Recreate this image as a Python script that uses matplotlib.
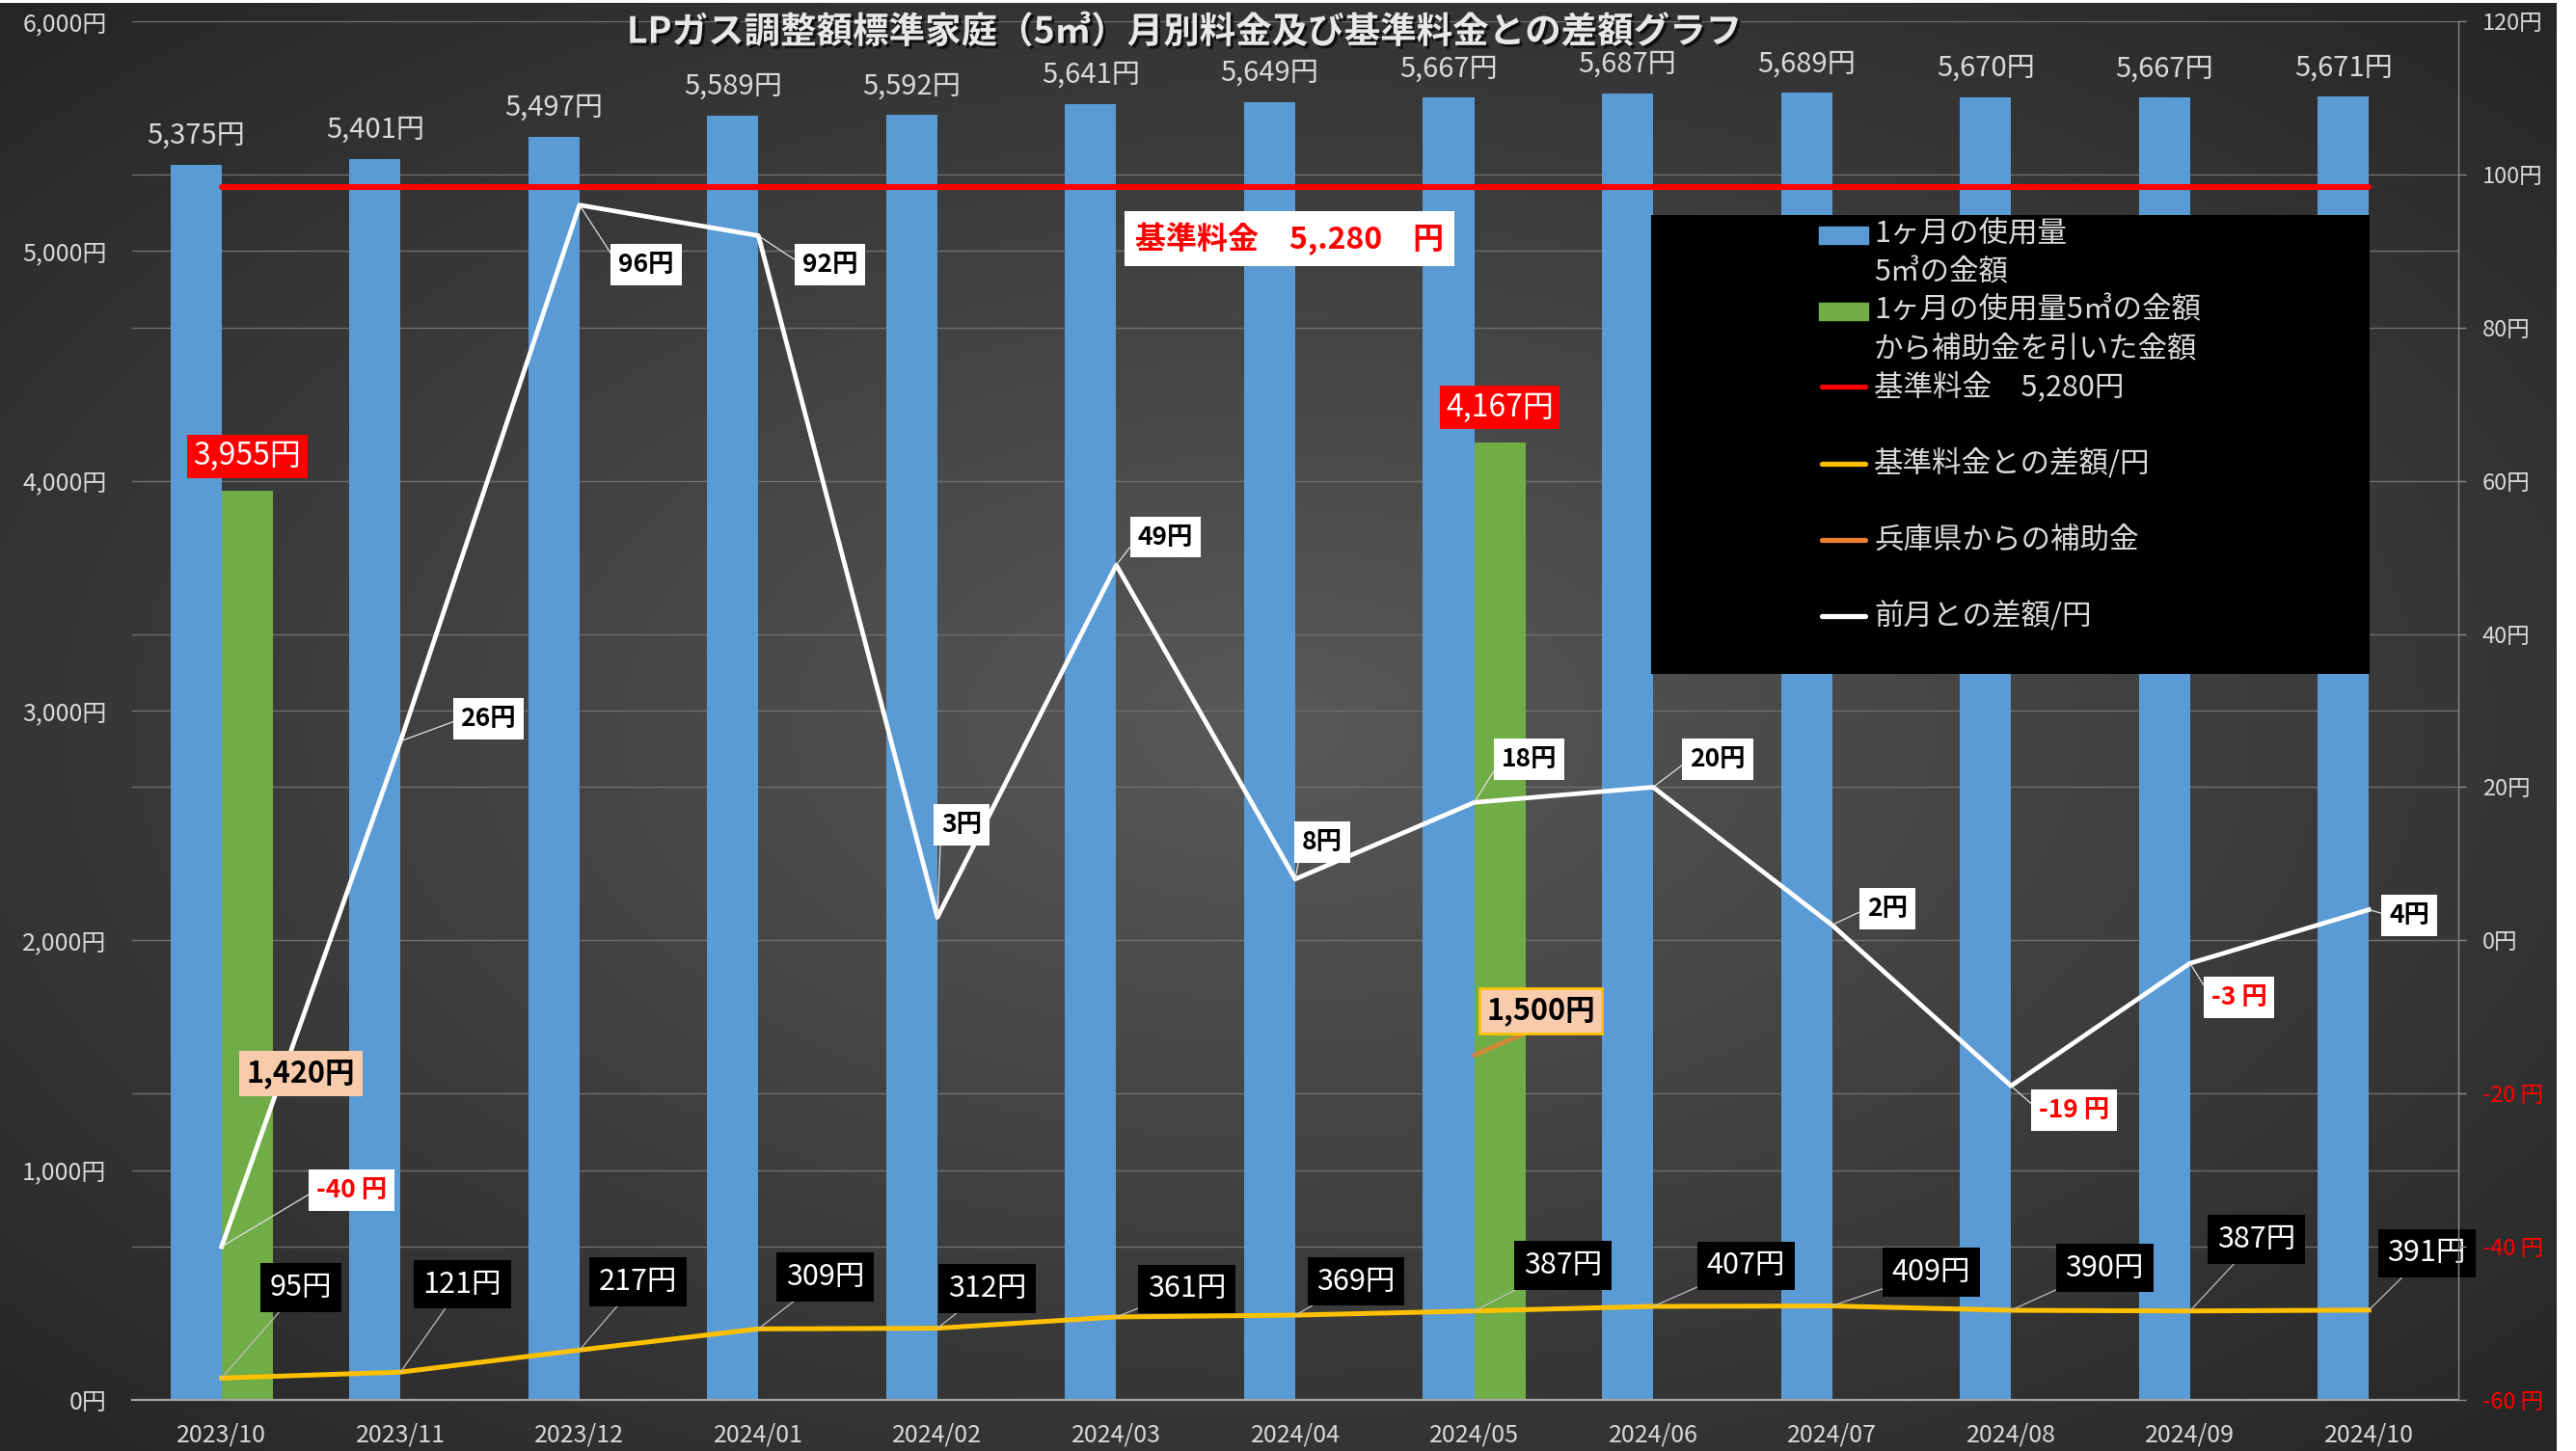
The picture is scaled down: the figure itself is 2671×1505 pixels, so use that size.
import numpy as np
import matplotlib
matplotlib.use("Agg")
import matplotlib.pyplot as plt
import matplotlib.patheffects as pe
from matplotlib.patches import Rectangle

plt.rcParams['font.family'] = ['Noto Sans CJK JP', 'DejaVu Sans']

NaN = np.nan
months = ["2023/10", "2023/11", "2023/12", "2024/01", "2024/02", "2024/03", "2024/04",
          "2024/05", "2024/06", "2024/07", "2024/08", "2024/09", "2024/10"]
monthly_cost_5m3 = [5375, 5401, 5497, 5589, 5592, 5641, 5649, 5667, 5687, 5689, 5670, 5667, 5671]
cost_after_subsidy = [3955, NaN, NaN, NaN, NaN, NaN, NaN, 4167, NaN, NaN, NaN, NaN, NaN]
base_fee = 5280
diff_from_base = [95, 121, 217, 309, 312, 361, 369, 387, 407, 409, 390, 387, 391]
hyogo_subsidy = [1420, NaN, NaN, NaN, NaN, NaN, NaN, 1500, NaN, NaN, NaN, NaN, NaN]
diff_prev_month = [-40, 26, 96, 92, 3, 49, 8, 18, 20, 2, -19, -3, 4]
left_ticks = [0, 1000, 2000, 3000, 4000, 5000, 6000]
right_ticks = [-60, -40, -20, 0, 20, 40, 60, 80, 100, 120]

series_names = ["1ヶ月の使用量\n5㎥の金額",
                "1ヶ月の使用量5㎥の金額\nから補助金を引いた金額",
                "基準料金　5,280円",
                "基準料金との差額/円",
                "兵庫県からの補助金",
                "前月との差額/円"]
title = "LPガス調整額標準家庭（5㎥）月別料金及び基準料金との差額グラフ"
base_note = "基準料金　5,.280　円"

# label placement (pixel offsets from the data point)
white_offsets = [(135, 59), (91, 23), (69, -62), (74, -30), (25, 96), (51, 29), (28, 38),
                 (57, 45), (67, 29), (57, 17), (65, -25), (51, -35), (42, -6)]
yellow_offsets = [(82, 94), (64, 91), (61, 71), (69, 54), (52, 41), (73, 29), (63, 35),
                  (92, 47), (96, 42), (103, 35), (97, 44), (69, 74), (60, 59)]
orange_offsets = {0: (82, 0), 7: (69, 46)}
orange_leader = {0: False, 7: True}
orange_edge = {0: 'none', 7: '#ffc000'}

C_BLUE = '#5b9bd5'
C_GREEN = '#70ad47'
C_RED = '#ff0000'
C_YEL = '#ffc000'
C_ORG = '#ed7d31'
C_WHITE = '#ffffff'
TXT = '#d9d9d9'

W, H = 2671, 1505
fig = plt.figure(figsize=(W / 100, H / 100), dpi=100, facecolor='white')

# background radial gradient
bg = fig.add_axes([0, 0, 2651 / W, (H - 3) / H])
yy, xx = np.mgrid[0:1:300j, 0:1:500j]
r = np.sqrt(((xx - 0.5) * 2) ** 2 + ((yy - 0.5) * 2) ** 2) / np.sqrt(2)
c = (0x59 + (0x25 - 0x59) * np.clip(r, 0, 1)) / 255.0
bg.imshow(np.dstack([c, c, c]), aspect='auto', extent=[0, 1, 0, 1], interpolation='bilinear')
bg.axis('off')
bg.set_zorder(-5)

ax = fig.add_axes([137 / W, (H - 1452) / H, (2549 - 137) / W, 1430 / H])
ax.set_facecolor('none')
n = len(months)
x = np.arange(n)
w = 0.286
ax.set_xlim(-0.5, n - 0.5)
ax.set_ylim(0, 6000)

ax2 = ax.twinx()
ax2.set_ylim(-60, 120)

# gridlines (both axes drawn on primary so they stay behind bars)
ax.set_axisbelow(True)
ax.set_yticks(left_ticks, [f'{v:,}円' for v in left_ticks])
ax.set_yticks([(v + 60) / 180 * 6000 for v in right_ticks], minor=True)
ax.grid(axis='y', which='both', color='#6e6e6e', lw=1.0)
ax.tick_params(axis='y', which='both', length=0, colors=TXT, labelsize=18, pad=19)
ax.set_xticks(x, months)
ax.tick_params(axis='x', length=0, colors=TXT, labelsize=18, pad=17)
for s in ['top', 'left', 'right']:
    ax.spines[s].set_visible(False)
ax.spines['bottom'].set_color('#a6a6a6')
ax.spines['bottom'].set_linewidth(1.6)

for s in ['top', 'left', 'bottom']:
    ax2.spines[s].set_visible(False)
ax2.spines['right'].set_color('#8c8c8c')
ax2.spines['right'].set_linewidth(1.0)
ax2.set_yticks(right_ticks, [f'{v}円' if v >= 0 else f'{v} 円' for v in right_ticks])
ax2.tick_params(axis='y', direction='out', length=6, width=1, color='#8c8c8c', labelsize=17, pad=12)
for lab, v in zip(ax2.get_yticklabels(), right_ticks):
    lab.set_color(C_RED if v < 0 else TXT)

# bars
ax.bar(x - w / 2, monthly_cost_5m3, w, color=C_BLUE, zorder=2)
ax.bar(x + w / 2, cost_after_subsidy, w, color=C_GREEN, zorder=2)

# lines
ax.plot(x, [base_fee] * n, color=C_RED, lw=4.4, solid_capstyle='round', zorder=3)
ax.plot(x, diff_from_base, color=C_YEL, lw=3.6, zorder=3)
ax.plot(x, hyogo_subsidy, color=C_ORG, lw=3.6, zorder=3)
ax2.plot(x, diff_prev_month, color=C_WHITE, lw=3.4, zorder=3)

# blue bar labels
for i, v in enumerate(monthly_cost_5m3):
    ax.annotate(f'{v:,}円', (x[i] - w / 2, v), xytext=(0, 30), textcoords='offset pixels',
                ha='center', va='center', color=TXT, fontsize=21, zorder=5)

# green bar labels
for i, v in enumerate(cost_after_subsidy):
    if np.isnan(v):
        continue
    ax.annotate(f'{int(v):,}円', (x[i] + w / 2, v), xytext=(0, 36), textcoords='offset pixels',
                ha='center', va='center', color='white', fontsize=23, zorder=5,
                bbox=dict(boxstyle='square,pad=0.2', fc=C_RED, ec='none'))

# yellow line labels
for i, v in enumerate(diff_from_base):
    ax.annotate(f'{v}円', (x[i], v), xytext=yellow_offsets[i], textcoords='offset pixels',
                ha='center', va='center', color='white', fontsize=22, zorder=6,
                bbox=dict(boxstyle='square,pad=0.32', fc='black', ec='none'),
                arrowprops=dict(arrowstyle='-', color='#bfbfbf', lw=0.9, shrinkA=0, shrinkB=0))

# white line labels
for i, v in enumerate(diff_prev_month):
    txt = f'{v}円' if v >= 0 else f'{v} 円'
    ax2.annotate(txt, (x[i], v), xytext=white_offsets[i], textcoords='offset pixels',
                 ha='center', va='center', color=(C_RED if v < 0 else 'black'),
                 fontsize=19, fontweight='bold', zorder=6,
                 bbox=dict(boxstyle='square,pad=0.3', fc='white', ec='none'),
                 arrowprops=dict(arrowstyle='-', color='#e0e0e0', lw=0.9, shrinkA=0, shrinkB=0,
                                 relpos=(0, 0.5)))

# orange (subsidy) labels, drawn above the white line
for i, v in enumerate(hyogo_subsidy):
    if np.isnan(v):
        continue
    ap = None
    if orange_leader[i]:
        ap = dict(arrowstyle='-', color=C_ORG, alpha=0.75, lw=3.5, shrinkA=0, shrinkB=0,
                  relpos=(0.5, 0))
    ax2.annotate(f'{int(v):,}円', (x[i], v), xycoords=ax.transData, xytext=orange_offsets[i],
                 textcoords='offset pixels', ha='center', va='center', color='black',
                 fontsize=22, fontweight='bold', zorder=7,
                 bbox=dict(boxstyle='square,pad=0.25', fc='#f8cbad', ec=orange_edge[i], lw=2),
                 arrowprops=ap)

# base fee note
ax.text(0.4975, 0.842, base_note, transform=ax.transAxes, ha='center', va='center',
        color=C_RED, fontsize=23, fontweight='bold', zorder=8,
        bbox=dict(boxstyle='square,pad=0.35', fc='white', ec='none'))

# title
fig.text(1228 / W, 1 - 33 / H, title, ha='center', va='center', fontsize=27,
         fontweight='bold', color='#e8e8e8', zorder=20,
         path_effects=[pe.withSimplePatchShadow(offset=(2, -2), shadow_rgbFace='black', alpha=0.7)])

# legend
lx0, lx1, ly0, ly1 = 1712, 2457, 223, 699
lax = fig.add_axes([lx0 / W, (H - ly1) / H, (lx1 - lx0) / W, (ly1 - ly0) / H])
lax.set_xlim(lx0, lx1)
lax.set_ylim(ly1, ly0)
lax.set_facecolor('black')
lax.set_xticks([])
lax.set_yticks([])
for s in lax.spines.values():
    s.set_visible(False)
lax.set_zorder(10)
kinds = [('patch', C_BLUE), ('patch', C_GREEN), ('line', C_RED), ('line', C_YEL),
         ('line', C_ORG), ('line', C_WHITE)]
slot = 39.6
y0 = 243
slots = [0, 2, 4, 6, 8, 10]
for name, (kind, col), sidx in zip(series_names, kinds, slots):
    yc = y0 + sidx * slot
    if kind == 'patch':
        lax.add_patch(Rectangle((1886, yc - 8), 51, 18, color=col))
    else:
        lax.plot([1889, 1934], [yc, yc], color=col, lw=3.8, solid_capstyle='round')
    for k, line in enumerate(name.split('\n')):
        lax.text(1943, yc + k * slot, line, color=TXT, fontsize=22, va='center', ha='left')

fig.savefig('out.png', dpi=100, facecolor=fig.get_facecolor())
